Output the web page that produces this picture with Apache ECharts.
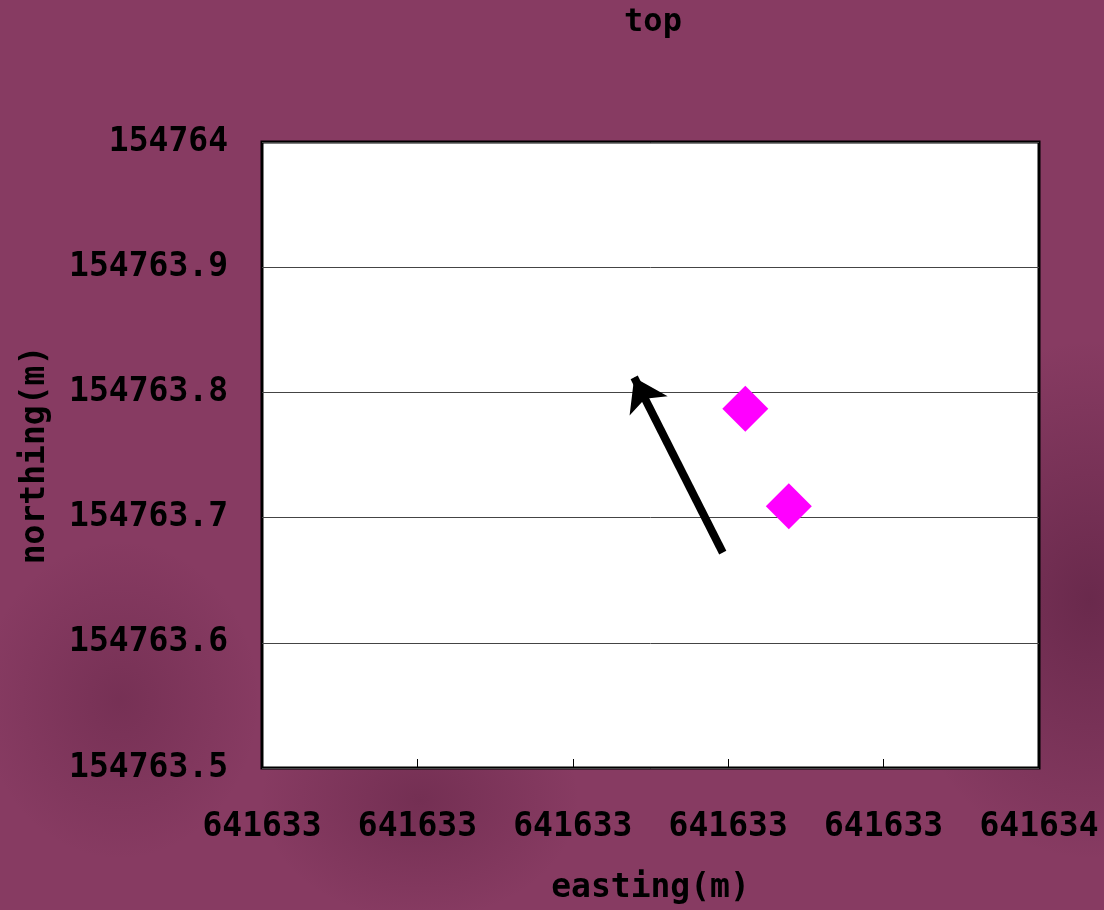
<!DOCTYPE html>
<html>
<head>
<meta charset="utf-8">
<script src="https://cdn.jsdelivr.net/npm/echarts@6/dist/echarts.min.js"></script>
<style>
html,body{margin:0;padding:0;width:1104px;height:910px;overflow:hidden;}
body{background:
 radial-gradient(ellipse 160px 120px at 420px 800px, rgba(80,25,55,0.35), rgba(0,0,0,0)),
 radial-gradient(ellipse 200px 260px at 1090px 600px, rgba(70,20,50,0.45), rgba(0,0,0,0)),
 radial-gradient(ellipse 140px 160px at 120px 700px, rgba(80,25,55,0.3), rgba(0,0,0,0)),
 #873b62;}
#c{width:1104px;height:910px;}
</style>
</head>
<body>
<div id="c"></div>
<script>
const titleText = "top";
const xName = "easting(m)";
const yName = "northing(m)";
const xMin = 641633.0, xMax = 641634.0, xStep = 0.2;
const yMin = 154763.5, yMax = 154764.0, yStep = 0.1;
const pointsX = [641633.622, 641633.678];
const pointsY = [154763.787, 154763.709];
const arrowStart = [641633.593, 154763.672];
const arrowEnd = [641633.479, 154763.812];

const FONT = '"DejaVu Sans Mono", monospace';
const chart = echarts.init(document.getElementById('c'));
chart.setOption({
  backgroundColor: 'transparent',
  animation: false,
  title: {
    text: titleText, left: 648, top: 2, textAlign: 'center',
    textStyle: {fontFamily: FONT, fontSize: 32, fontWeight: 'bold', color: '#000'}
  },
  grid: {
    left: 262, right: 65, top: 142, bottom: 142,
    show: true, backgroundColor: '#fff', borderColor: '#000', borderWidth: 3
  },
  xAxis: {
    type: 'value', min: xMin, max: xMax, interval: xStep,
    name: xName, nameLocation: 'middle', nameGap: 104,
    nameTextStyle: {fontFamily: FONT, fontSize: 33, fontWeight: 'bold', color: '#000'},
    axisLine: {show: false},
    axisTick: {show: true, inside: true, length: 9, lineStyle: {color: '#000', width: 1}},
    splitLine: {show: false},
    axisLabel: {
      show: true, margin: 43, showMinLabel: true, showMaxLabel: true,
      fontFamily: FONT, fontSize: 33, fontWeight: 'bold', color: '#000',
      formatter: v => String(Math.floor(v + 1e-6))
    }
  },
  yAxis: {
    type: 'value', min: yMin, max: yMax, interval: yStep,
    name: yName, nameLocation: 'middle', nameGap: 210,
    nameTextStyle: {fontFamily: FONT, fontSize: 33, fontWeight: 'bold', color: '#000'},
    axisLine: {show: false},
    axisTick: {show: false},
    splitLine: {show: true, lineStyle: {color: '#444', width: 1}},
    axisLabel: {
      show: true, margin: 34,
      fontFamily: FONT, fontSize: 33, fontWeight: 'bold', color: '#000',
      formatter: v => String(+v.toFixed(1))
    }
  },
  series: [
    {
      type: 'scatter',
      data: pointsX.map((x, i) => [x, pointsY[i]]),
      symbol: 'diamond', symbolSize: 46,
      itemStyle: {color: '#ff00ff', opacity: 1}
    },
    {
      type: 'lines',
      coordinateSystem: 'cartesian2d',
      data: [{coords: [arrowStart, arrowEnd]}],
      symbol: ['none', 'arrow'],
      symbolSize: [26, 32],
      lineStyle: {color: '#000', width: 8, opacity: 1},
      itemStyle: {color: '#000'}
    }
  ]
});
</script>
</body>
</html>
